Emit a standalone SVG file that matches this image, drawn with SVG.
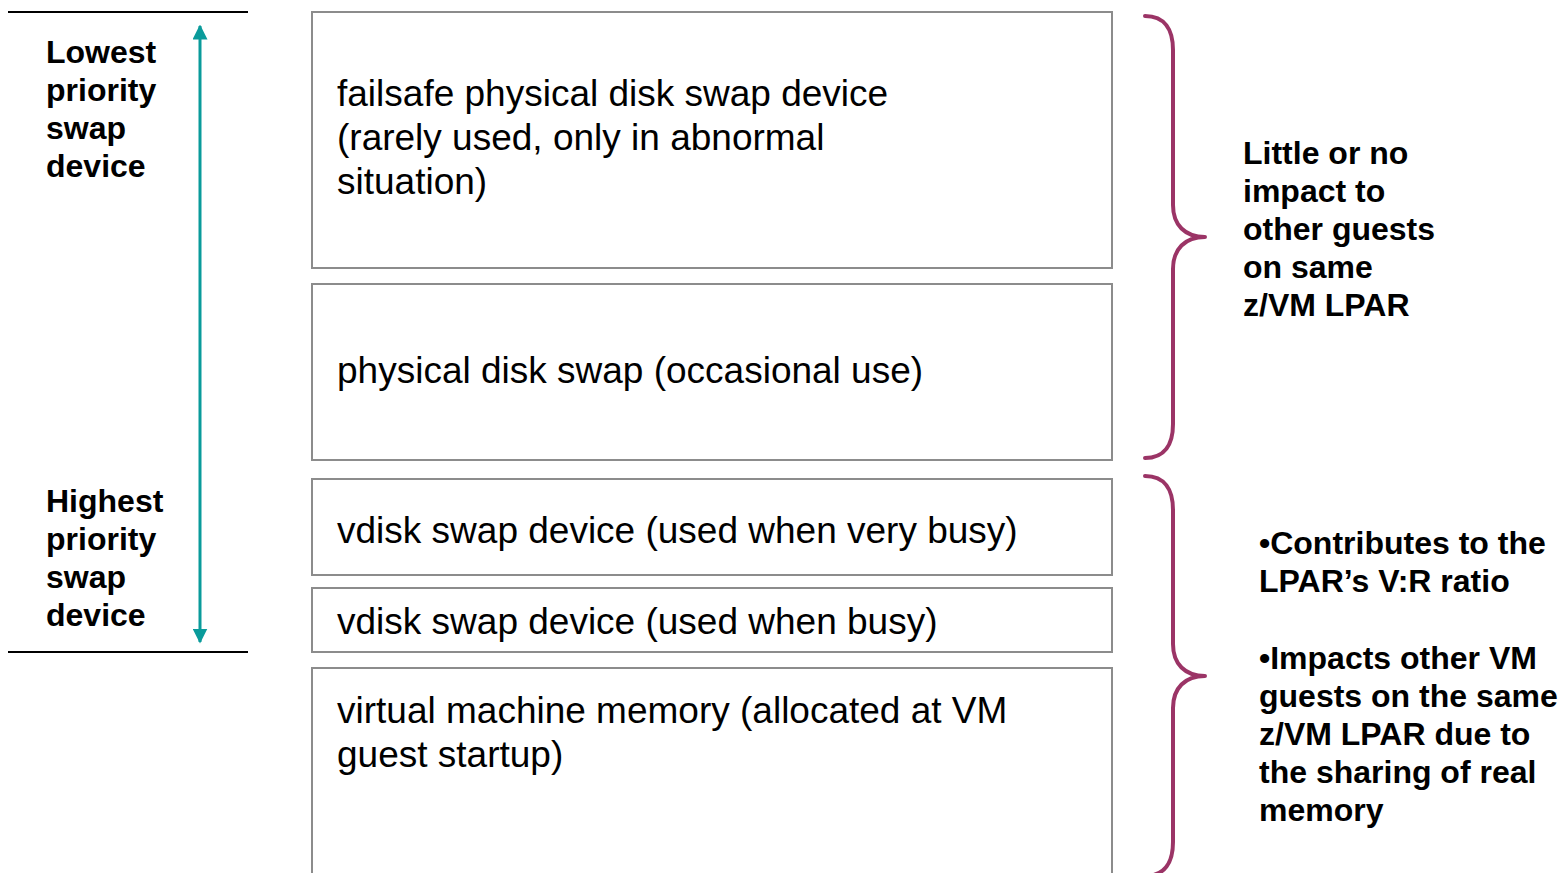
<svg xmlns="http://www.w3.org/2000/svg" width="1562" height="873" viewBox="0 0 1562 873">
<style>
.box{fill:#fff;stroke:#8c8c8c;stroke-width:2}
.bt{font-family:"Liberation Sans",Arial,sans-serif;font-size:37px;fill:#000}
.lb{font-family:"Liberation Sans",Arial,sans-serif;font-size:32px;font-weight:bold;fill:#000}
.brace{fill:none;stroke:#9b3466;stroke-width:4;stroke-linecap:round;stroke-linejoin:round}
.rule{stroke:#000;stroke-width:2}
</style>
<defs>
<marker id="ah" viewBox="0 0 10 10" refX="9" refY="5" markerWidth="5" markerHeight="5" orient="auto-start-reverse" markerUnits="strokeWidth">
<path d="M0,0 L10,5 L0,10 z" fill="#0a9b9b"/>
</marker>
</defs>
<rect width="1562" height="873" fill="#fff"/>
<g id="scale">
<line class="rule" x1="8" y1="12" x2="248" y2="12"/>
<line class="rule" x1="8" y1="652" x2="248" y2="652"/>
<text class="lb"><tspan x="46" y="63">Lowest</tspan><tspan x="46" y="101">priority</tspan><tspan x="46" y="139">swap</tspan><tspan x="46" y="177">device</tspan></text>
<text class="lb"><tspan x="46" y="512">Highest</tspan><tspan x="46" y="550">priority</tspan><tspan x="46" y="588">swap</tspan><tspan x="46" y="626">device</tspan></text>
</g>
<g id="connectors">
<line x1="200" y1="26" x2="200" y2="642" stroke="#0a9b9b" stroke-width="3" marker-start="url(#ah)" marker-end="url(#ah)"/>
<path class="brace" d="M1145,16 C1165,16 1173,30 1173,50 L1173,205 C1173,225 1185,237 1205,237 C1185,237 1173,249 1173,269 L1173,424 C1173,444 1165,458 1145,458"/>
<path class="brace" d="M1145,476 C1165,476 1173,490 1173,510 L1173,644 C1173,664 1185,676 1205,676 C1185,676 1173,688 1173,708 L1173,842 C1173,862 1165,876 1145,876"/>
</g>
<g id="box1">
<rect class="box" x="312" y="12" width="800" height="256"/>
<text class="bt"><tspan x="337" y="106">failsafe physical disk swap device</tspan><tspan x="337" y="150">(rarely used, only in abnormal</tspan><tspan x="337" y="194">situation)</tspan></text>
</g>
<g id="box2">
<rect class="box" x="312" y="284" width="800" height="176"/>
<text class="bt" x="337" y="383">physical disk swap (occasional use)</text>
</g>
<g id="box3">
<rect class="box" x="312" y="479" width="800" height="96"/>
<text class="bt" x="337" y="543">vdisk swap device (used when very busy)</text>
</g>
<g id="box4">
<rect class="box" x="312" y="588" width="800" height="64"/>
<text class="bt" x="337" y="634">vdisk swap device (used when busy)</text>
</g>
<g id="box5">
<rect class="box" x="312" y="668" width="800" height="230"/>
<text class="bt"><tspan x="337" y="723">virtual machine memory (allocated at VM</tspan><tspan x="337" y="767">guest startup)</tspan></text>
</g>
<g id="note1">
<text class="lb"><tspan x="1243" y="164">Little or no</tspan><tspan x="1243" y="202">impact to</tspan><tspan x="1243" y="240">other guests</tspan><tspan x="1243" y="278">on same</tspan><tspan x="1243" y="316">z/VM LPAR</tspan></text>
</g>
<g id="note2">
<text class="lb"><tspan x="1259" y="554">•Contributes to the</tspan><tspan x="1259" y="592">LPAR’s V:R ratio</tspan><tspan x="1259" y="669">•Impacts other VM</tspan><tspan x="1259" y="707">guests on the same</tspan><tspan x="1259" y="745">z/VM LPAR due to</tspan><tspan x="1259" y="783">the sharing of real</tspan><tspan x="1259" y="821">memory</tspan></text>
</g>
</svg>
